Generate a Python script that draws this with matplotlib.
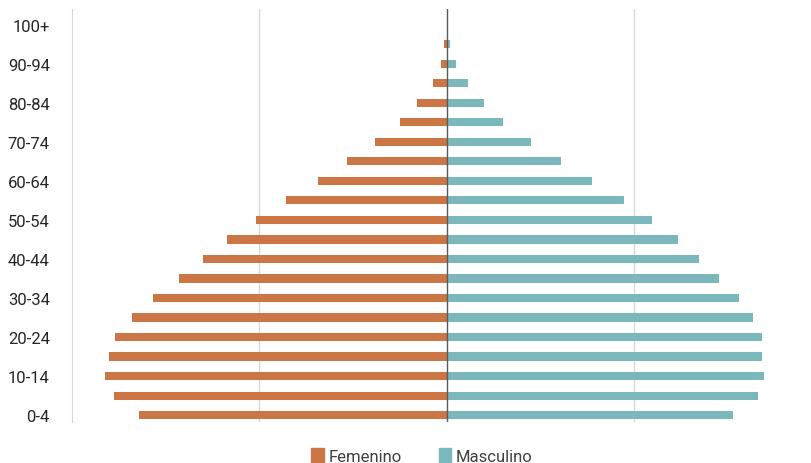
import numpy as np
import matplotlib
matplotlib.use("Agg")
import matplotlib.pyplot as plt
from matplotlib.patches import Patch

plt.rcParams['font.family'] = ['Roboto', 'DejaVu Sans']

# grupos de edad, de abajo hacia arriba
grupos = ["0-4", "5-9", "10-14", "15-19", "20-24", "25-29", "30-34", "35-39",
          "40-44", "45-49", "50-54", "55-59", "60-64", "65-69", "70-74",
          "75-79", "80-84", "85-89", "90-94", "95-99", "100+"]

# % de la poblacion
femenino = [3.29, 3.55, 3.65, 3.60, 3.54, 3.36, 3.14, 2.86, 2.60, 2.35, 2.04,
            1.72, 1.38, 1.07, 0.77, 0.50, 0.32, 0.15, 0.064, 0.032, 0.005]
masculino = [3.05, 3.32, 3.38, 3.36, 3.36, 3.26, 3.12, 2.90, 2.69, 2.46, 2.19,
             1.89, 1.55, 1.22, 0.90, 0.60, 0.40, 0.22, 0.096, 0.032, 0.005]

c_fem = "#CB7644"
c_mas = "#7AB8BC"

fig = plt.figure(figsize=(8.11, 4.64), dpi=100)
ax = fig.add_axes([72/811, 1 - 423/464, 1 - 72/811, 413/464])

y = np.arange(len(grupos))
ax.barh(y, -np.array(femenino), height=0.42, color=c_fem, zorder=2)
ax.barh(y, masculino, height=0.42, color=c_mas, zorder=2)

ax.set_xlim(-4, 3.883)
ax.set_ylim(-0.35, 20.8)

for gx in (-2, 2):
    ax.axvline(gx, color="#D9D9D9", lw=1, zorder=1)
ax.axvline(0, color="#595959", lw=1, zorder=3)

ax.set_yticks(y[::2])
ax.set_yticklabels(grupos[::2], fontsize=12, color="#262626")
ax.tick_params(axis="y", length=0, pad=16)
ax.set_xticks([])

for s in ("top", "right", "bottom"):
    ax.spines[s].set_visible(False)
ax.spines["left"].set_color("#D9D9D9")

handles = [Patch(color=c_fem, label="Femenino"),
           Patch(color=c_mas, label="Masculino")]
fig.legend(handles=handles, loc="lower center", bbox_to_anchor=(422/811, -0.035),
           ncol=2, frameon=False, fontsize=12, handlelength=0.75,
           handleheight=1.0, handletextpad=0.3, columnspacing=2.2,
           labelcolor="#404040")

fig.savefig("out.png", dpi=100)
